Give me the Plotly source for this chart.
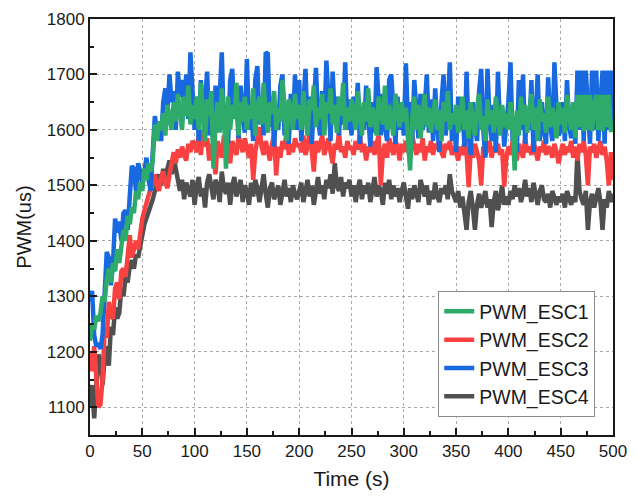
import plotly.graph_objects as go

# time axis, one sample every 2 s
TIME = list(range(0, 501, 2))

PWM_ESC1 = [
    1220, 1250, 1240, 1265, 1255, 1270, 1300, 1290, 1330, 1350, 1325, 1360, 1345, 1385, 1360, 1395, 1420, 1400, 1445, 1430, 1460, 1450, 1490, 1475, 1505,
    1490, 1530, 1510, 1540, 1525, 1545, 1610, 1580, 1615, 1600, 1630, 1590, 1645, 1620, 1600, 1650, 1615, 1665, 1630, 1600, 1660, 1625, 1680, 1610, 1645,
    1620, 1660, 1600, 1685, 1640, 1580, 1655, 1625, 1670, 1530, 1610, 1650, 1595, 1675, 1630, 1530, 1660, 1600, 1645, 1620, 1685, 1590, 1650, 1615, 1660,
    1600, 1645, 1620, 1675, 1590, 1640, 1660, 1610, 1685, 1625, 1595, 1650, 1630, 1670, 1600, 1640, 1615, 1690, 1625, 1580, 1655, 1635, 1600, 1665, 1620,
    1645, 1600, 1670, 1625, 1590, 1655, 1635, 1680, 1605, 1640, 1620, 1665, 1590, 1650, 1630, 1675, 1610, 1645, 1595, 1660, 1625, 1685, 1600, 1640, 1615,
    1655, 1620, 1600, 1670, 1635, 1590, 1650, 1615, 1675, 1605, 1640, 1625, 1590, 1660, 1630, 1610, 1680, 1600, 1645, 1620, 1590, 1665, 1630, 1605, 1650,
    1615, 1640, 1590, 1527, 1620, 1660, 1600, 1645, 1585, 1630, 1665, 1605, 1640, 1595, 1625, 1655, 1600, 1635, 1580, 1650, 1615, 1670, 1600, 1630, 1610,
    1645, 1595, 1625, 1660, 1600, 1635, 1585, 1650, 1615, 1590, 1640, 1665, 1600, 1625, 1580, 1655, 1610, 1635, 1595, 1660, 1620, 1590, 1645, 1605, 1630,
    1600, 1650, 1615, 1527, 1635, 1590, 1660, 1610, 1645, 1595, 1625, 1665, 1600, 1640, 1580, 1655, 1615, 1630, 1595, 1660, 1605, 1640, 1620, 1585, 1650,
    1610, 1640, 1595, 1663, 1620, 1600, 1650, 1585, 1663, 1605, 1663, 1598, 1663, 1600, 1663, 1598, 1645, 1663, 1600, 1663, 1598, 1663, 1605, 1663, 1600,
    1600,
]

PWM_ESC2 = [
    1200, 1165, 1210, 1160, 1100, 1105, 1150, 1240, 1225, 1290, 1265, 1260, 1315, 1325, 1295, 1345, 1350, 1335, 1370, 1410, 1370, 1390, 1400, 1385, 1420,
    1440, 1455, 1470, 1480, 1495, 1505, 1520, 1500, 1490, 1515, 1525, 1505, 1495, 1520, 1545, 1560, 1540, 1565, 1550, 1570, 1555, 1545, 1575, 1560, 1580,
    1575, 1560, 1590, 1555, 1600, 1570, 1585, 1545, 1575, 1560, 1520, 1580, 1565, 1550, 1590, 1560, 1575, 1540, 1580, 1565, 1555, 1590, 1570, 1560, 1585,
    1565, 1550, 1575, 1510, 1560, 1585, 1605, 1570, 1555, 1580, 1565, 1545, 1575, 1590, 1518, 1570, 1550, 1580, 1565, 1600, 1555, 1575, 1560, 1585, 1570,
    1575, 1560, 1590, 1555, 1570, 1600, 1565, 1525, 1580, 1560, 1575, 1590, 1555, 1570, 1585, 1560, 1540, 1575, 1565, 1595, 1560, 1570, 1550, 1580, 1565,
    1570, 1555, 1580, 1565, 1590, 1560, 1575, 1545, 1570, 1560, 1580, 1555, 1575, 1590, 1500, 1560, 1575, 1550, 1585, 1565, 1555, 1580, 1570, 1545, 1575,
    1560, 1580, 1565, 1550, 1590, 1570, 1555, 1575, 1560, 1585, 1545, 1570, 1560, 1580, 1555, 1575, 1565, 1590, 1560, 1550, 1575, 1565, 1580, 1555, 1570,
    1560, 1545, 1570, 1555, 1580, 1560, 1497, 1565, 1550, 1575, 1560, 1545, 1500, 1570, 1555, 1565, 1580, 1550, 1570, 1560, 1575, 1555, 1565, 1498, 1550,
    1570, 1555, 1580, 1560, 1545, 1575, 1565, 1550, 1585, 1560, 1570, 1555, 1580, 1565, 1545, 1570, 1560, 1580, 1555, 1570, 1565, 1550, 1575, 1560, 1540,
    1560, 1575, 1555, 1570, 1560, 1580, 1550, 1570, 1545, 1575, 1560, 1580, 1555, 1500, 1570, 1560, 1575, 1550, 1565, 1580, 1555, 1570, 1545, 1500, 1560,
    1510,
]

PWM_ESC3 = [
    1290, 1310, 1230, 1210, 1215, 1205, 1230, 1300, 1380, 1370, 1320, 1360, 1440, 1415, 1435, 1400, 1450, 1455, 1420, 1480, 1535, 1530, 1490, 1540, 1525,
    1500, 1530, 1550, 1510, 1490, 1560, 1625, 1600, 1615, 1580, 1650, 1675, 1630, 1700, 1650, 1670, 1600, 1705, 1660, 1690, 1640, 1700, 1620, 1740, 1680,
    1600, 1660, 1580, 1690, 1620, 1650, 1705, 1590, 1640, 1570, 1680, 1615, 1660, 1740, 1600, 1645, 1575, 1690, 1710, 1620, 1655, 1585, 1680, 1630, 1595,
    1728, 1600, 1650, 1580, 1690, 1715, 1610, 1660, 1590, 1740, 1737, 1605, 1660, 1570, 1640, 1600, 1680, 1700, 1590, 1650, 1575, 1665, 1610, 1700, 1600,
    1690, 1580, 1640, 1710, 1600, 1660, 1575, 1650, 1712, 1620, 1590, 1670, 1605, 1725, 1640, 1580, 1705, 1620, 1660, 1590, 1650, 1610, 1722, 1600, 1655,
    1590, 1660, 1620, 1685, 1575, 1640, 1600, 1680, 1610, 1570, 1650, 1595, 1713, 1630, 1590, 1665, 1605, 1580, 1690, 1700, 1620, 1575, 1660, 1600, 1645,
    1590, 1720, 1610, 1650, 1575, 1690, 1620, 1585, 1665, 1600, 1640, 1700, 1595, 1655, 1580, 1675, 1610, 1560, 1650, 1700, 1590, 1640, 1722, 1580, 1620,
    1560, 1660, 1600, 1640, 1570, 1705, 1590, 1555, 1650, 1610, 1580, 1670, 1710, 1600, 1550, 1710, 1620, 1580, 1645, 1560, 1705, 1600, 1640, 1570, 1615,
    1650, 1722, 1580, 1620, 1560, 1690, 1600, 1700, 1575, 1640, 1600, 1690, 1560, 1620, 1700, 1580, 1650, 1600, 1575, 1695, 1610, 1580, 1722, 1640, 1590,
    1600, 1650, 1580, 1690, 1610, 1585, 1640, 1575, 1707, 1600, 1707, 1580, 1707, 1620, 1575, 1707, 1600, 1707, 1580, 1650, 1707, 1575, 1707, 1600, 1707,
    1600,
]

PWM_ESC4 = [
    1100, 1140, 1080, 1150, 1195, 1185, 1140, 1190, 1210, 1175, 1245, 1230, 1280, 1260, 1270, 1315, 1300, 1335, 1325, 1355, 1365, 1350, 1375, 1370, 1395,
    1410, 1430, 1440, 1450, 1465, 1475, 1490, 1505, 1520, 1500, 1530, 1515, 1535, 1545, 1520, 1550, 1530, 1505, 1490, 1510, 1475, 1505, 1495, 1480, 1510,
    1465, 1500, 1515, 1480, 1495, 1460, 1505, 1520, 1490, 1475, 1510, 1500, 1470, 1525, 1495, 1485, 1505, 1465, 1500, 1515, 1480, 1495, 1510, 1470, 1500,
    1490, 1465, 1505, 1480, 1510, 1495, 1470, 1500, 1520, 1485, 1460, 1495, 1505, 1475, 1490, 1500, 1465, 1485, 1510, 1480, 1495, 1470, 1500, 1485, 1475,
    1490, 1505, 1470, 1495, 1510, 1480, 1500, 1465, 1495, 1515, 1485, 1500, 1475, 1510, 1495, 1520, 1485, 1540, 1500, 1490, 1515, 1480, 1505, 1495, 1510,
    1480, 1500, 1470, 1495, 1510, 1475, 1500, 1485, 1505, 1470, 1495, 1515, 1480, 1500, 1490, 1465, 1505, 1485, 1510, 1475, 1500, 1480, 1495, 1470, 1490,
    1505, 1480, 1458, 1495, 1475, 1500, 1485, 1470, 1510, 1490, 1480, 1500, 1465, 1490, 1475, 1505, 1480, 1470, 1495, 1485, 1500, 1475, 1520, 1490, 1480,
    1470, 1490, 1460, 1480, 1455, 1420, 1470, 1490, 1460, 1420, 1465, 1485, 1460, 1475, 1490, 1460, 1475, 1425, 1470, 1490, 1455, 1475, 1500, 1465, 1480,
    1465, 1490, 1475, 1500, 1480, 1495, 1470, 1485, 1510, 1480, 1495, 1470, 1505, 1485, 1465, 1490, 1500, 1475, 1470, 1485, 1460, 1490, 1475, 1465, 1480,
    1470, 1485, 1460, 1490, 1475, 1465, 1480, 1470, 1560, 1490, 1475, 1465, 1490, 1420, 1470, 1485, 1460, 1480, 1495, 1470, 1420, 1475, 1460, 1490, 1470,
    1485,
]

NAMES = ["PWM_ESC1", "PWM_ESC2", "PWM_ESC3", "PWM_ESC4"]
COLORS = ["#2eaa6a", "#f94141", "#1868e0", "#505050"]
SERIES = [PWM_ESC1, PWM_ESC2, PWM_ESC3, PWM_ESC4]

FONT = "Arial, Liberation Sans, sans-serif"

fig = go.Figure()
# draw order: ESC4 below, ESC1 on top; legend keeps ESC1..ESC4
for i in [3, 1, 2, 0]:
    fig.add_trace(
        go.Scatter(
            x=TIME,
            y=SERIES[i],
            name=NAMES[i],
            mode="lines",
            line={"color": COLORS[i], "width": 4.5},
            legendrank=i + 1,
        )
    )

axis_style = {
    "showline": True,
    "linecolor": "#1a1a1a",
    "linewidth": 2,
    "mirror": True,
    "ticks": "inside",
    "ticklen": 7,
    "tickwidth": 1.5,
    "tickcolor": "#1a1a1a",
    "showgrid": True,
    "gridcolor": "#a8a8a8",
    "gridwidth": 1,
    "griddash": "dot",
    "zeroline": False,
    "automargin": False,
    "ticklabeloverflow": "allow",
    "tickfont": {"family": FONT, "size": 17, "color": "#1a1a1a"},
}

fig.update_xaxes(
    range=[0, 500],
    tickvals=list(range(0, 501, 50)),
    minor={"ticks": "inside", "ticklen": 4, "tickcolor": "#1a1a1a", "dtick": 25, "showgrid": False},
    title={"text": "Time (s)", "font": {"family": FONT, "size": 21, "color": "#1a1a1a"}, "standoff": 14},
    **axis_style,
)
fig.update_yaxes(
    range=[1050, 1800],
    tickvals=list(range(1100, 1801, 100)),
    minor={"ticks": "inside", "ticklen": 4, "tickcolor": "#1a1a1a", "dtick": 50, "tick0": 1050, "showgrid": False},
    title={"text": "PWM(us)", "font": {"family": FONT, "size": 20, "color": "#1a1a1a"}, "standoff": 10},
    **axis_style,
)

# the page body adds an 8 px margin, so the figure is sized to fit inside it;
# the top margin leaves room for the 1800 label
fig.update_layout(
    width=622,
    height=482,
    margin={"l": 82, "r": 17, "t": 11, "b": 55},
    paper_bgcolor="white",
    plot_bgcolor="white",
    font={"family": FONT, "color": "#1a1a1a"},
    legend={
        "x": 0.966,
        "y": 0.043,
        "xanchor": "right",
        "yanchor": "bottom",
        "bgcolor": "white",
        "bordercolor": "#8c8c8c",
        "borderwidth": 1,
        "font": {"family": FONT, "size": 19.5, "color": "#1a1a1a"},
        "tracegroupgap": 0,
    },
)

fig.write_html("out.html")
